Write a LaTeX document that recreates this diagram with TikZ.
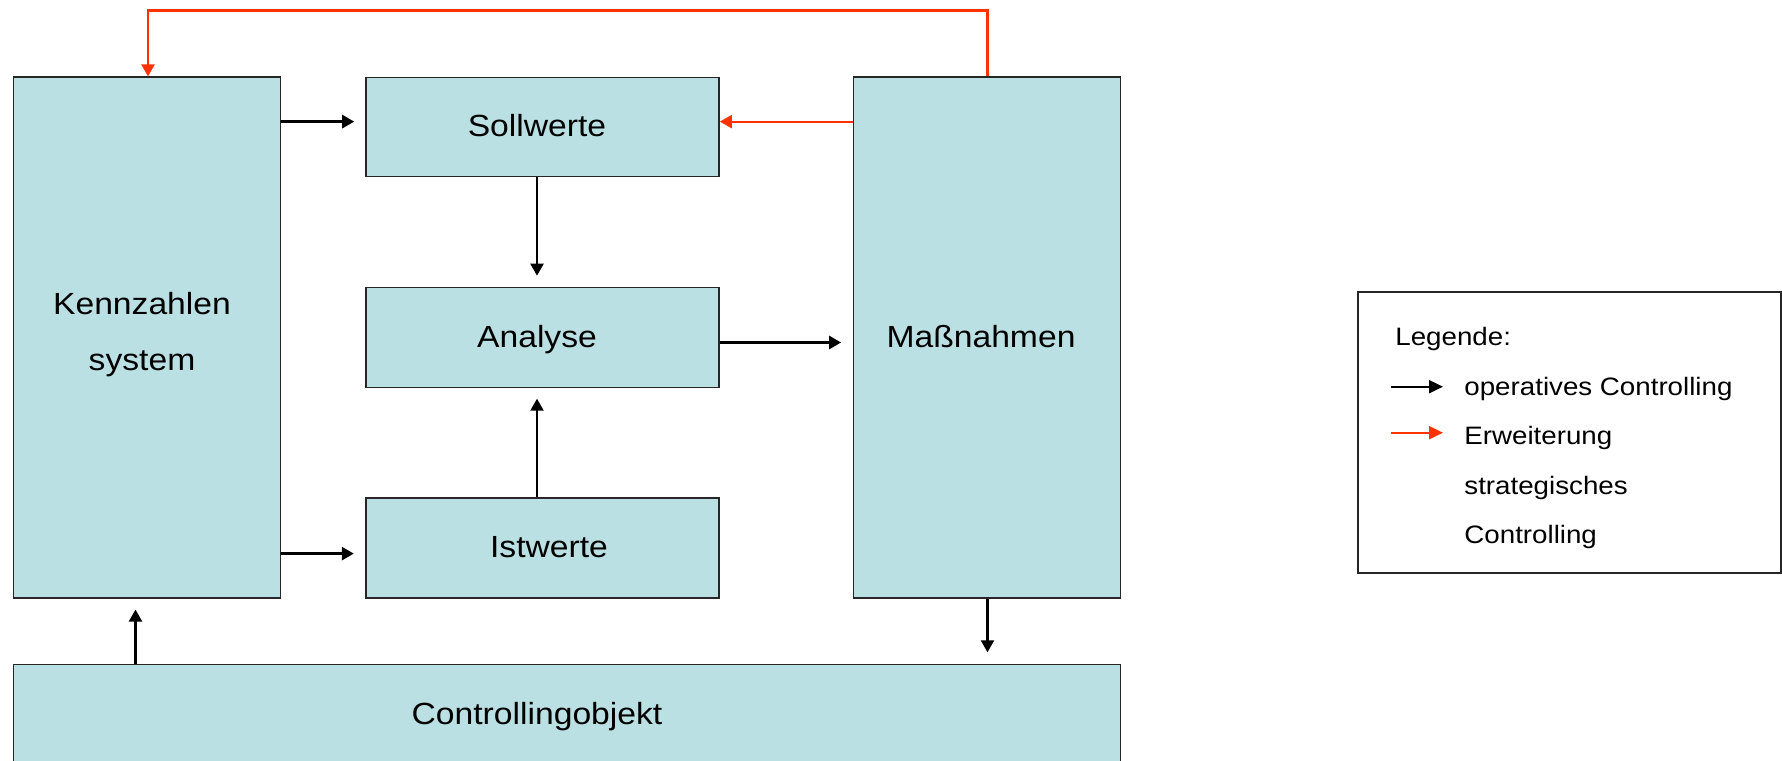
\documentclass[tikz,border=0pt]{standalone}
\usepackage{fontspec}
\setmainfont{Liberation Sans}[FakeStretch=1.1]
\usetikzlibrary{arrows.meta}
\definecolor{boxblue}{HTML}{BAE0E3}
\definecolor{redarr}{HTML}{FF3300}
\tikzset{
  blockbox/.style={draw=black!85, line width=0.8pt, fill=boxblue, inner sep=0pt},
  maintext/.style={inner sep=0pt, anchor=base, font=\fontsize{15.3}{18}\selectfont},
  legtext/.style={inner sep=0pt, anchor=base west, font=\fontsize{12.6}{15}\selectfont},
  blackarr/.style={draw=black, line width=1.4pt, -{Triangle[length=6pt,width=6.5pt]}},
  blackarrv/.style={draw=black, line width=1.1pt, -{Triangle[length=6pt,width=6.5pt]}},
  redarrow/.style={draw=redarr, line width=1.1pt, -{Triangle[length=6pt,width=6.5pt]}},
  legarr/.style={line width=1pt, -{Triangle[length=7pt,width=6.5pt]}}
}
\begin{document}
\begin{tikzpicture}[x=0.5pt,y=-0.5pt]
\useasboundingbox (0,0) rectangle (1782,760);
% boxes
\node[blockbox, minimum width=133.5pt, minimum height=260.25pt] (K) at (147,337.5) {};
\node[blockbox, minimum width=176.5pt, minimum height=49.5pt] (S) at (542.5,127) {};
\node[blockbox, minimum width=176.5pt, minimum height=50pt] (A) at (542.5,337.5) {};
\node[blockbox, minimum width=176.5pt, minimum height=50pt] (I) at (542.5,547.8) {};
\node[blockbox, minimum width=133.5pt, minimum height=260.25pt] (M) at (987,337.5) {};
\node[blockbox, minimum width=553.5pt, minimum height=48.5pt] (C) at (567,713) {};
\node[draw=black!85, line width=1pt, minimum width=211.5pt, minimum height=140.5pt, inner sep=0pt] (L) at (1569.5,432.3) {};
% texts
\node[maintext] (Kt1) at (142,314.3) {Kennzahlen};
\node[maintext] (Kt2) at (142,370) {system};
\node[maintext] (St) at (537,136.7) {Sollwerte};
\node[maintext] (At) at (537,347.7) {Analyse};
\node[maintext] (It) at (549,557.3) {Istwerte};
\node[maintext] (Mt) at (981,347.7) {Maßnahmen};
\node[maintext] (Ct) at (537,724) {Controllingobjekt};
% helper coordinates
\coordinate (ytop) at (0,121.6);
\coordinate (ybot) at (0,553.6);
\coordinate (ymid) at (0,342.5);
\coordinate (xcol) at (537,0);
\coordinate (xk) at (135.5,0);
\coordinate (xm) at (987.5,0);
\coordinate (r1) at (987.5,10.5);
\coordinate (r2) at (148,10.5);
% arrows
\draw[blackarr, shorten >=5.5pt] (K.east |- ytop) -- (S.west |- ytop);
\draw[blackarr, shorten >=5.7pt] (K.east |- ybot) -- (I.west |- ybot);
\draw[blackarrv, shorten >=5.5pt] (S.south -| xcol) -- (A.north -| xcol);
\draw[blackarrv, shorten >=5.2pt] (I.north -| xcol) -- (A.south -| xcol);
\draw[blackarr, shorten >=5.8pt] (A.east |- ymid) -- (M.west |- ymid);
\draw[blackarrv, shorten >=5.5pt] (C.north -| xk) -- (K.south -| xk);
\draw[blackarrv, shorten >=5.7pt] (M.south -| xm) -- (C.north -| xm);
\draw[redarrow] (M.west |- ytop) -- (S.east |- ytop);
\draw[redarrow] (M.north -| r1) -- (r1) -- (r2) -- (K.north -| r2);
% legend
\node[legtext] (Lg) at (1395,345) {Legende:};
\node[legtext] (L1) at (1464,395) {operatives Controlling};
\node[legtext] (L2) at (1464,444.5) {Erweiterung};
\node[legtext] (L3) at (1464,494) {strategisches};
\node[legtext] (L4) at (1464,543.3) {Controlling};
\coordinate (la1) at (1391,386.7);
\coordinate (lb1) at (1443,386.7);
\coordinate (la2) at (1391,432.7);
\coordinate (lb2) at (1443,432.7);
\draw[legarr, draw=black] (la1) -- (lb1);
\draw[legarr, draw=redarr] (la2) -- (lb2);
\end{tikzpicture}
\end{document}
